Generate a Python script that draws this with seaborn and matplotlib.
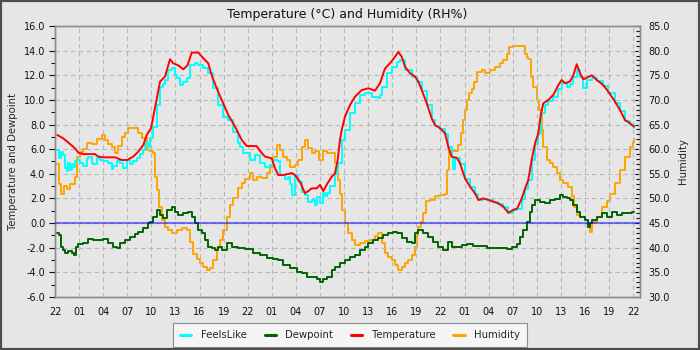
import numpy as np
import pandas as pd
import matplotlib
matplotlib.use("Agg")
import matplotlib.pyplot as plt
import matplotlib.dates as mdates
from matplotlib.lines import Line2D
from matplotlib.patches import Rectangle
from matplotlib.ticker import MultipleLocator, FormatStrFormatter
import seaborn as sns

# Start of the 72-hour window
start = pd.Timestamp("2024-03-10 22:00")

# ---- Temperature (degC), hours since start ----
temp_hours = [0.29, 1.03, 1.87, 2.49, 2.90, 3.52, 4.98, 5.39, 6.00, 7.47, 8.30, 9.00, 9.75,
              10.37, 11.00, 11.42, 11.96, 12.24, 12.67, 13.08, 13.70, 14.32, 14.73, 15.35,
              15.98, 16.52, 17.02, 17.85, 18.47, 19.09, 19.51, 20.14, 20.76, 21.58, 22.42,
              23.25, 23.87, 25.12, 25.53, 26.15, 26.99, 27.40, 27.81, 28.43, 29.48, 29.89,
              30.51, 31.13, 31.54, 31.97, 32.59, 33.00, 33.41, 33.91, 34.46, 34.87, 35.20,
              35.49, 35.70, 36.11, 36.74, 37.36, 38.19, 39.02, 39.85, 40.47, 41.10, 41.72,
              42.34, 42.75, 43.18, 43.59, 44.21, 44.83, 45.24, 45.67, 46.29, 46.91, 47.32,
              47.95, 48.57, 48.98, 49.40, 50.03, 50.44, 51.06, 51.68, 52.30, 52.72, 53.34,
              53.96, 54.58, 55.21, 55.83, 56.45, 57.07, 57.57, 58.12, 58.53, 58.94, 59.36,
              59.78, 60.19, 60.52, 60.81, 61.43, 62.05, 62.68, 63.10, 63.51, 64.13, 64.55,
              64.97, 65.38, 65.79, 66.21, 66.84, 67.46, 68.28, 68.90, 69.74, 70.36, 70.98,
              71.60, 72.10]
temp_vals = [7.15, 6.88, 6.42, 6.07, 5.72, 5.60, 5.60, 5.40, 5.34, 5.34, 5.12, 5.12, 5.40,
             5.80, 6.34, 7.15, 7.70, 8.64, 10.10, 11.48, 11.90, 13.30, 12.97, 12.80,
             12.48, 12.83, 13.84, 13.84, 13.38, 12.97, 12.00, 10.94, 10.00, 8.78, 7.83,
             6.75, 6.26, 6.25, 5.85, 5.40, 5.25, 4.45, 3.90, 3.90, 4.06, 3.90,
             3.36, 2.42, 2.60, 2.82, 2.82, 3.10, 2.60, 3.20, 3.77, 4.04, 5.12,
             6.75, 7.56, 8.64, 9.59, 10.26, 10.80, 10.94, 10.75, 11.35, 12.56, 12.97,
             13.50, 13.90, 13.50, 12.70, 12.16, 11.90, 11.50, 10.80, 9.73, 8.50, 7.96,
             7.70, 7.29, 6.20, 5.39, 5.30, 4.85, 3.63, 2.96, 2.42, 1.88, 2.00,
             1.88, 1.74, 1.60, 1.33, 0.84, 1.06, 1.20, 2.00, 2.80, 3.50, 5.12,
             6.47, 7.29, 8.91, 9.72, 10.00, 10.40, 11.20, 11.62, 11.35, 11.50, 12.00,
             12.90, 12.16, 11.67, 11.80, 12.00, 11.62, 11.20, 10.67, 9.86, 9.18, 8.37,
             8.10, 7.83]

# ---- Feels-like temperature (degC) ----
feels_hours = [0.29, 0.54, 0.75, 1.03, 1.25, 1.49, 1.66, 1.87, 2.08, 2.28, 2.49, 2.70, 3.11,
               3.52, 3.95, 4.15, 4.57, 4.77, 5.19, 5.60, 6.01, 6.64, 7.06, 7.26, 7.68, 8.09,
               8.50, 8.93, 9.34, 9.75, 10.17, 10.59, 11.00, 11.21, 11.62, 11.83, 12.24,
               12.67, 13.08, 13.49, 13.70, 14.11, 14.53, 14.94, 15.16, 15.57, 15.98, 16.40,
               16.81, 17.43, 17.85, 18.47, 19.09, 19.71, 20.34, 20.96, 21.58, 22.20, 22.83,
               23.04, 23.45, 23.66, 24.28, 24.91, 25.53, 26.15, 26.77, 27.19, 27.60, 28.00,
               28.60, 29.05, 29.27, 29.50, 29.89, 30.30, 30.72, 31.13, 31.54, 31.97, 32.38,
               32.59, 33.00, 33.41, 33.62, 33.91, 34.25, 34.87, 35.08, 35.28, 35.70, 36.11,
               36.74, 37.36, 37.98, 38.61, 39.44, 40.26, 40.47, 40.68, 41.31, 41.93, 42.55,
               42.96, 43.59, 44.42, 45.04, 45.67, 46.29, 46.91, 47.32, 47.95, 48.57, 48.98,
               49.40, 49.60, 49.81, 50.44, 51.06, 51.68, 52.30, 52.72, 53.34, 53.96, 54.58,
               55.21, 55.83, 56.45, 57.07, 57.57, 58.12, 58.53, 58.94, 59.36, 59.78, 60.19,
               60.52, 61.02, 61.43, 62.05, 62.68, 63.10, 63.72, 64.13, 64.55, 64.97, 65.38,
               65.79, 66.21, 66.84, 67.46, 68.28, 68.90, 69.74, 70.36, 70.98, 71.61, 72.10]
feels_vals = [5.90, 5.30, 5.80, 5.53, 4.50, 4.20, 4.90, 4.30, 4.80, 4.58, 5.00, 5.10, 4.90,
              4.60, 5.20, 5.40, 4.90, 4.80, 5.30, 5.10, 5.00, 4.90, 4.40, 4.60, 5.00, 4.90,
              4.50, 5.10, 4.80, 5.00, 5.30, 5.60, 5.90, 6.48, 6.20, 6.90, 7.83,
              9.59, 11.07, 11.30, 11.62, 12.43, 12.56, 12.00, 11.80, 11.20, 11.48, 11.75,
              12.83, 12.97, 12.83, 12.56, 12.16, 10.94, 9.59, 8.64, 8.37, 7.42, 6.48,
              6.20, 5.66, 5.66, 5.12, 5.53, 4.85, 4.58, 4.72, 5.12, 5.00, 3.90,
              3.60, 3.77, 3.20, 2.30, 3.90, 3.30, 2.50, 2.30, 1.74, 1.88, 1.50,
              2.15, 1.60, 2.42, 2.20, 2.42, 3.00, 4.00, 4.30, 4.85, 6.75, 7.56,
              8.91, 9.73, 10.40, 10.53, 10.26, 10.13, 10.40, 11.07, 12.16, 12.70, 13.10,
              13.25, 12.43, 11.90, 11.48, 10.70, 9.60, 8.40, 7.90, 7.65, 7.25, 6.15,
              5.35, 4.40, 5.30, 4.80, 3.60, 2.93, 2.40, 1.86, 1.98, 1.86, 1.72,
              1.58, 1.31, 0.82, 1.04, 1.18, 1.98, 2.75, 3.48, 5.10, 6.45, 7.27,
              8.90, 9.59, 9.90, 10.26, 10.90, 11.40, 11.07, 11.30, 11.90, 12.43, 11.90,
              10.94, 11.60, 11.80, 11.50, 11.10, 10.57, 9.76, 9.08, 8.27, 8.00, 7.73]

# ---- Dewpoint (degC) ----
dew_hours = [0.29, 0.54, 0.71, 0.96, 1.25, 1.66, 2.08, 2.37, 2.62, 2.90, 3.52, 4.15, 4.77,
             5.39, 6.01, 6.64, 7.26, 7.68, 8.09, 8.72, 9.34, 9.96, 10.37, 11.00, 11.62,
             11.83, 12.24, 12.67, 13.08, 13.49, 13.91, 14.53, 14.94, 15.35, 15.98, 16.60,
             17.02, 17.43, 17.85, 18.27, 18.68, 19.09, 19.51, 19.93, 20.34, 20.76, 21.38,
             22.00, 22.83, 23.66, 24.69, 25.53, 26.36, 27.19, 27.81, 28.43, 29.27, 30.10,
             30.72, 31.34, 31.97, 32.59, 33.00, 33.41, 33.91, 34.46, 34.87, 35.49, 36.11,
             36.74, 37.36, 37.98, 38.61, 39.02, 39.64, 40.26, 40.88, 41.51, 42.13, 42.55,
             43.18, 43.80, 44.42, 44.83, 45.24, 45.87, 46.49, 47.11, 47.73, 48.36, 48.98,
             49.40, 50.02, 50.65, 51.27, 52.09, 52.93, 53.76, 54.58, 55.42, 56.25, 56.87,
             57.49, 57.91, 58.32, 58.74, 59.15, 59.36, 59.78, 60.40, 61.02, 61.64, 62.27,
             62.89, 63.30, 63.72, 64.13, 64.55, 64.97, 65.38, 66.00, 66.41, 66.60, 66.84,
             67.46, 68.08, 68.70, 69.33, 69.95, 70.57, 71.19, 71.82, 72.10]
dew_vals = [-0.83, -1.00, -1.92, -2.20, -2.46, -2.30, -2.46, -2.60, -1.92, -1.70, -1.60, -1.32, -1.37,
            -1.37, -1.30, -1.60, -1.92, -2.00, -1.65, -1.37, -1.10, -0.90, -0.70, -0.43, -0.02,
            0.10, 0.52, 1.06, 0.65, 0.40, 1.06, 1.33, 0.93, 0.65, 0.80, 0.93,
            0.52, 0.02, -0.56, -0.83, -1.37, -1.92, -2.05, -2.20, -1.92, -2.20, -1.65,
            -1.92, -2.05, -2.10, -2.46, -2.60, -2.87, -2.90, -2.98, -3.40, -3.67, -3.95,
            -4.08, -4.35, -4.35, -4.55, -4.75, -4.50, -4.35, -3.80, -3.60, -3.26, -3.00,
            -2.73, -2.60, -2.20, -1.92, -1.65, -1.37, -1.25, -0.97, -0.83, -0.70, -0.83,
            -1.25, -1.50, -1.65, -0.83, -0.56, -0.83, -1.10, -1.50, -1.92, -2.20, -1.50,
            -1.92, -1.92, -1.78, -1.70, -1.85, -1.87, -2.00, -2.05, -2.05, -2.12, -1.92,
            -1.70, -1.10, -0.56, 0.10, 0.90, 1.47, 1.88, 1.74, 1.65, 1.88, 1.95,
            2.28, 2.15, 2.00, 1.88, 1.47, 0.93, 0.52, 0.25, -0.30, 0.00, 0.25,
            0.52, 0.80, 0.52, 0.93, 0.65, 0.80, 0.85, 0.93, 0.93]

# ---- Relative humidity (%) ----
hum_hours = [0.29, 0.54, 0.75, 1.12, 1.49, 1.87, 2.37, 2.49, 2.70, 3.11, 3.52, 3.95, 4.57,
             5.19, 5.82, 6.23, 6.64, 7.06, 7.47, 7.88, 8.31, 8.72, 9.13, 9.96, 10.37, 10.80,
             11.42, 11.83, 12.24, 12.45, 12.67, 12.95, 13.29, 13.70, 14.11, 14.53, 15.16,
             15.78, 16.40, 16.81, 17.22, 17.65, 18.06, 18.47, 18.89, 19.30, 19.71, 20.14,
             20.55, 20.96, 21.38, 21.79, 22.20, 22.83, 23.25, 23.66, 24.28, 24.69, 25.12,
             25.74, 26.36, 26.77, 27.19, 27.61, 28.02, 28.43, 28.85, 29.27, 29.89, 30.30,
             30.72, 31.13, 31.54, 31.97, 32.38, 32.91, 33.34, 33.84, 34.46, 34.87, 35.28,
             35.49, 35.70, 36.11, 36.52, 36.95, 37.36, 37.98, 38.61, 39.23, 39.85, 40.26,
             40.68, 41.10, 41.51, 41.93, 42.34, 42.75, 43.18, 43.59, 44.00, 44.42, 44.83,
             45.04, 45.24, 45.58, 45.87, 46.16, 46.70, 47.32, 47.95, 48.57, 48.85, 49.07,
             49.40, 49.81, 50.22, 50.52, 50.77, 51.06, 51.27, 51.59, 51.89, 52.18, 52.52,
             53.14, 53.55, 54.17, 54.79, 55.42, 55.83, 56.25, 56.58, 57.07, 58.32, 58.53,
             58.74, 58.94, 59.28, 59.56, 59.99, 60.27, 60.61, 60.81, 61.23, 61.64, 62.05,
             62.48, 62.89, 63.30, 63.92, 64.34, 64.67, 64.97, 65.38, 66.00, 66.41, 66.60,
             66.84, 67.46, 68.08, 68.70, 69.12, 69.74, 70.36, 70.98, 71.61, 72.02, 72.10]
hum_vals = [57.0, 53.0, 51.0, 52.5, 52.0, 53.0, 53.0, 54.4, 58.5, 59.5, 60.1, 61.2, 61.0,
            62.0, 62.9, 61.9, 61.0, 60.4, 59.3, 60.6, 62.5, 63.2, 64.2, 64.2, 63.2, 62.2,
            59.9, 59.6, 59.3, 54.4, 51.7, 48.3, 45.6, 44.3, 43.6, 42.9, 43.6,
            44.0, 43.6, 41.2, 38.8, 37.8, 36.8, 36.1, 35.5, 35.8, 37.5, 39.9,
            41.6, 43.6, 46.3, 48.7, 50.1, 52.1, 53.1, 53.9, 55.1, 53.8, 54.4,
            54.1, 55.1, 56.4, 58.5, 60.8, 59.9, 58.5, 57.8, 56.4, 56.8, 57.8,
            60.5, 61.9, 60.2, 59.3, 59.6, 57.8, 59.6, 59.3, 59.3, 57.1, 53.7,
            51.0, 47.7, 45.0, 42.9, 41.6, 40.6, 41.0, 41.3, 41.6, 42.3, 42.9,
            41.0, 38.9, 38.2, 37.5, 36.5, 35.5, 36.1, 36.8, 37.5, 38.5, 40.2,
            42.5, 44.3, 45.2, 47.0, 49.4, 49.7, 50.4, 50.7, 51.0, 55.8, 60.5,
            59.6, 59.6, 60.8, 63.2, 65.9, 67.9, 70.0, 71.5, 72.2, 73.7, 75.7,
            76.1, 75.4, 76.1, 76.7, 77.4, 78.1, 79.4, 80.8, 80.9, 80.9, 79.4,
            78.8, 78.4, 74.7, 72.7, 70.0, 68.0, 63.9, 60.5, 57.8, 57.1, 56.4,
            55.1, 53.7, 53.1, 52.4, 50.4, 48.3, 46.6, 46.3, 45.6, 44.3, 43.2,
            45.2, 46.3, 48.3, 49.4, 51.0, 53.1, 55.8, 58.5, 60.5, 61.5, 62.0]

series_names = ["FeelsLike", "Dewpoint", "Temperature", "Humidity"]
series_colors = ["#00ffff", "#006400", "#ff0000", "#ffa500"]
bg = "#e6e6e6"


def to_times(hours):
    return start + pd.to_timedelta(np.asarray(hours), unit="h")


sns.set_style("white", {"axes.facecolor": bg, "figure.facecolor": bg})
plt.rcParams["font.family"] = ["DejaVu Sans"]

fig = plt.figure(figsize=(7, 3.5), dpi=100, facecolor=bg)
ax = fig.add_axes([55 / 700, 1 - 297 / 350, 585 / 700, 271 / 350])
ax2 = ax.twinx()
# temperatures drawn above the humidity trace
ax.set_zorder(ax2.get_zorder() + 1)
ax.patch.set_visible(False)
ax2.patch.set_visible(True)
ax2.patch.set_facecolor(bg)

lw = 1.4
sns.lineplot(x=to_times(hum_hours), y=hum_vals, ax=ax2, color=series_colors[3],
             linewidth=lw, drawstyle="steps-post", legend=False)
sns.lineplot(x=to_times(feels_hours), y=feels_vals, ax=ax, color=series_colors[0],
             linewidth=lw, drawstyle="steps-post", legend=False)
sns.lineplot(x=to_times(dew_hours), y=dew_vals, ax=ax, color=series_colors[1],
             linewidth=lw, drawstyle="steps-post", legend=False)
sns.lineplot(x=to_times(temp_hours), y=temp_vals, ax=ax, color=series_colors[2],
             linewidth=lw, legend=False)

# freezing line
ax.axhline(0, color="#0000ff", alpha=0.5, linewidth=1.5, zorder=5)

x0 = start
x1 = start + pd.Timedelta(hours=72.85)
ax.set_xlim(x0, x1)
ax.set_ylim(-6, 16)
ax2.set_ylim(30, 85)

ax.xaxis.set_major_locator(mdates.HourLocator(byhour=[1, 4, 7, 10, 13, 16, 19, 22]))
ax.xaxis.set_minor_locator(mdates.HourLocator())
ax.xaxis.set_major_formatter(mdates.DateFormatter("%H"))
ax.yaxis.set_major_locator(MultipleLocator(2))
ax.yaxis.set_minor_locator(MultipleLocator(1))
ax.yaxis.set_major_formatter(FormatStrFormatter("%.1f"))
ax2.yaxis.set_major_locator(MultipleLocator(5))
ax2.yaxis.set_minor_locator(MultipleLocator(1))
ax2.yaxis.set_major_formatter(FormatStrFormatter("%.1f"))

tick_kw = dict(labelsize=7, colors="#111111", width=0.8)
ax.tick_params(axis="both", which="major", direction="out", length=4, pad=3, **tick_kw)
ax.tick_params(axis="both", which="minor", direction="out", length=3, width=0.8, colors="#111111")
ax2.tick_params(axis="y", which="major", direction="in", length=4, pad=6, **tick_kw)
ax2.tick_params(axis="y", which="minor", direction="in", length=3, width=0.8, colors="#111111")

ax.grid(True, which="major", color="#b8b8b8", linestyle=(0, (4, 3)), linewidth=0.8)
ax2.grid(False)

for a in (ax, ax2):
    for s in a.spines.values():
        s.set_color("#8c8c8c")
        s.set_linewidth(1.0)
        s.set_visible(True)

ax.set_xlabel("")
ax.set_ylabel("Temperature and Dewpoint", fontsize=7.3, labelpad=4)
ax2.set_ylabel("Humidity", fontsize=7.3, labelpad=6, rotation=90)
ax.set_title("Temperature (°C) and Humidity (RH%)", fontsize=9, pad=6, color="#111111")

handles = [Line2D([], [], color=c, linewidth=2.2) for c in series_colors]
leg = fig.legend(handles, series_names, loc="upper center", bbox_to_anchor=(0.5, 1 - 323 / 350),
                 ncol=4, fontsize=7.3, frameon=True, fancybox=False, handlelength=1.1,
                 handletextpad=0.9, columnspacing=1.8, borderpad=0.7, borderaxespad=0.0)
leg.get_frame().set_facecolor("#f5f5f5")
leg.get_frame().set_edgecolor("#8c8c8c")
leg.get_frame().set_linewidth(0.8)
leg.get_frame().set_alpha(1.0)

# dark outer frame
fig.patches.append(Rectangle((0, 0), 1, 1, transform=fig.transFigure, fill=False,
                             edgecolor="#4d4d4d", linewidth=3.0, zorder=10))

fig.savefig("out.png", dpi=100, facecolor=bg)
